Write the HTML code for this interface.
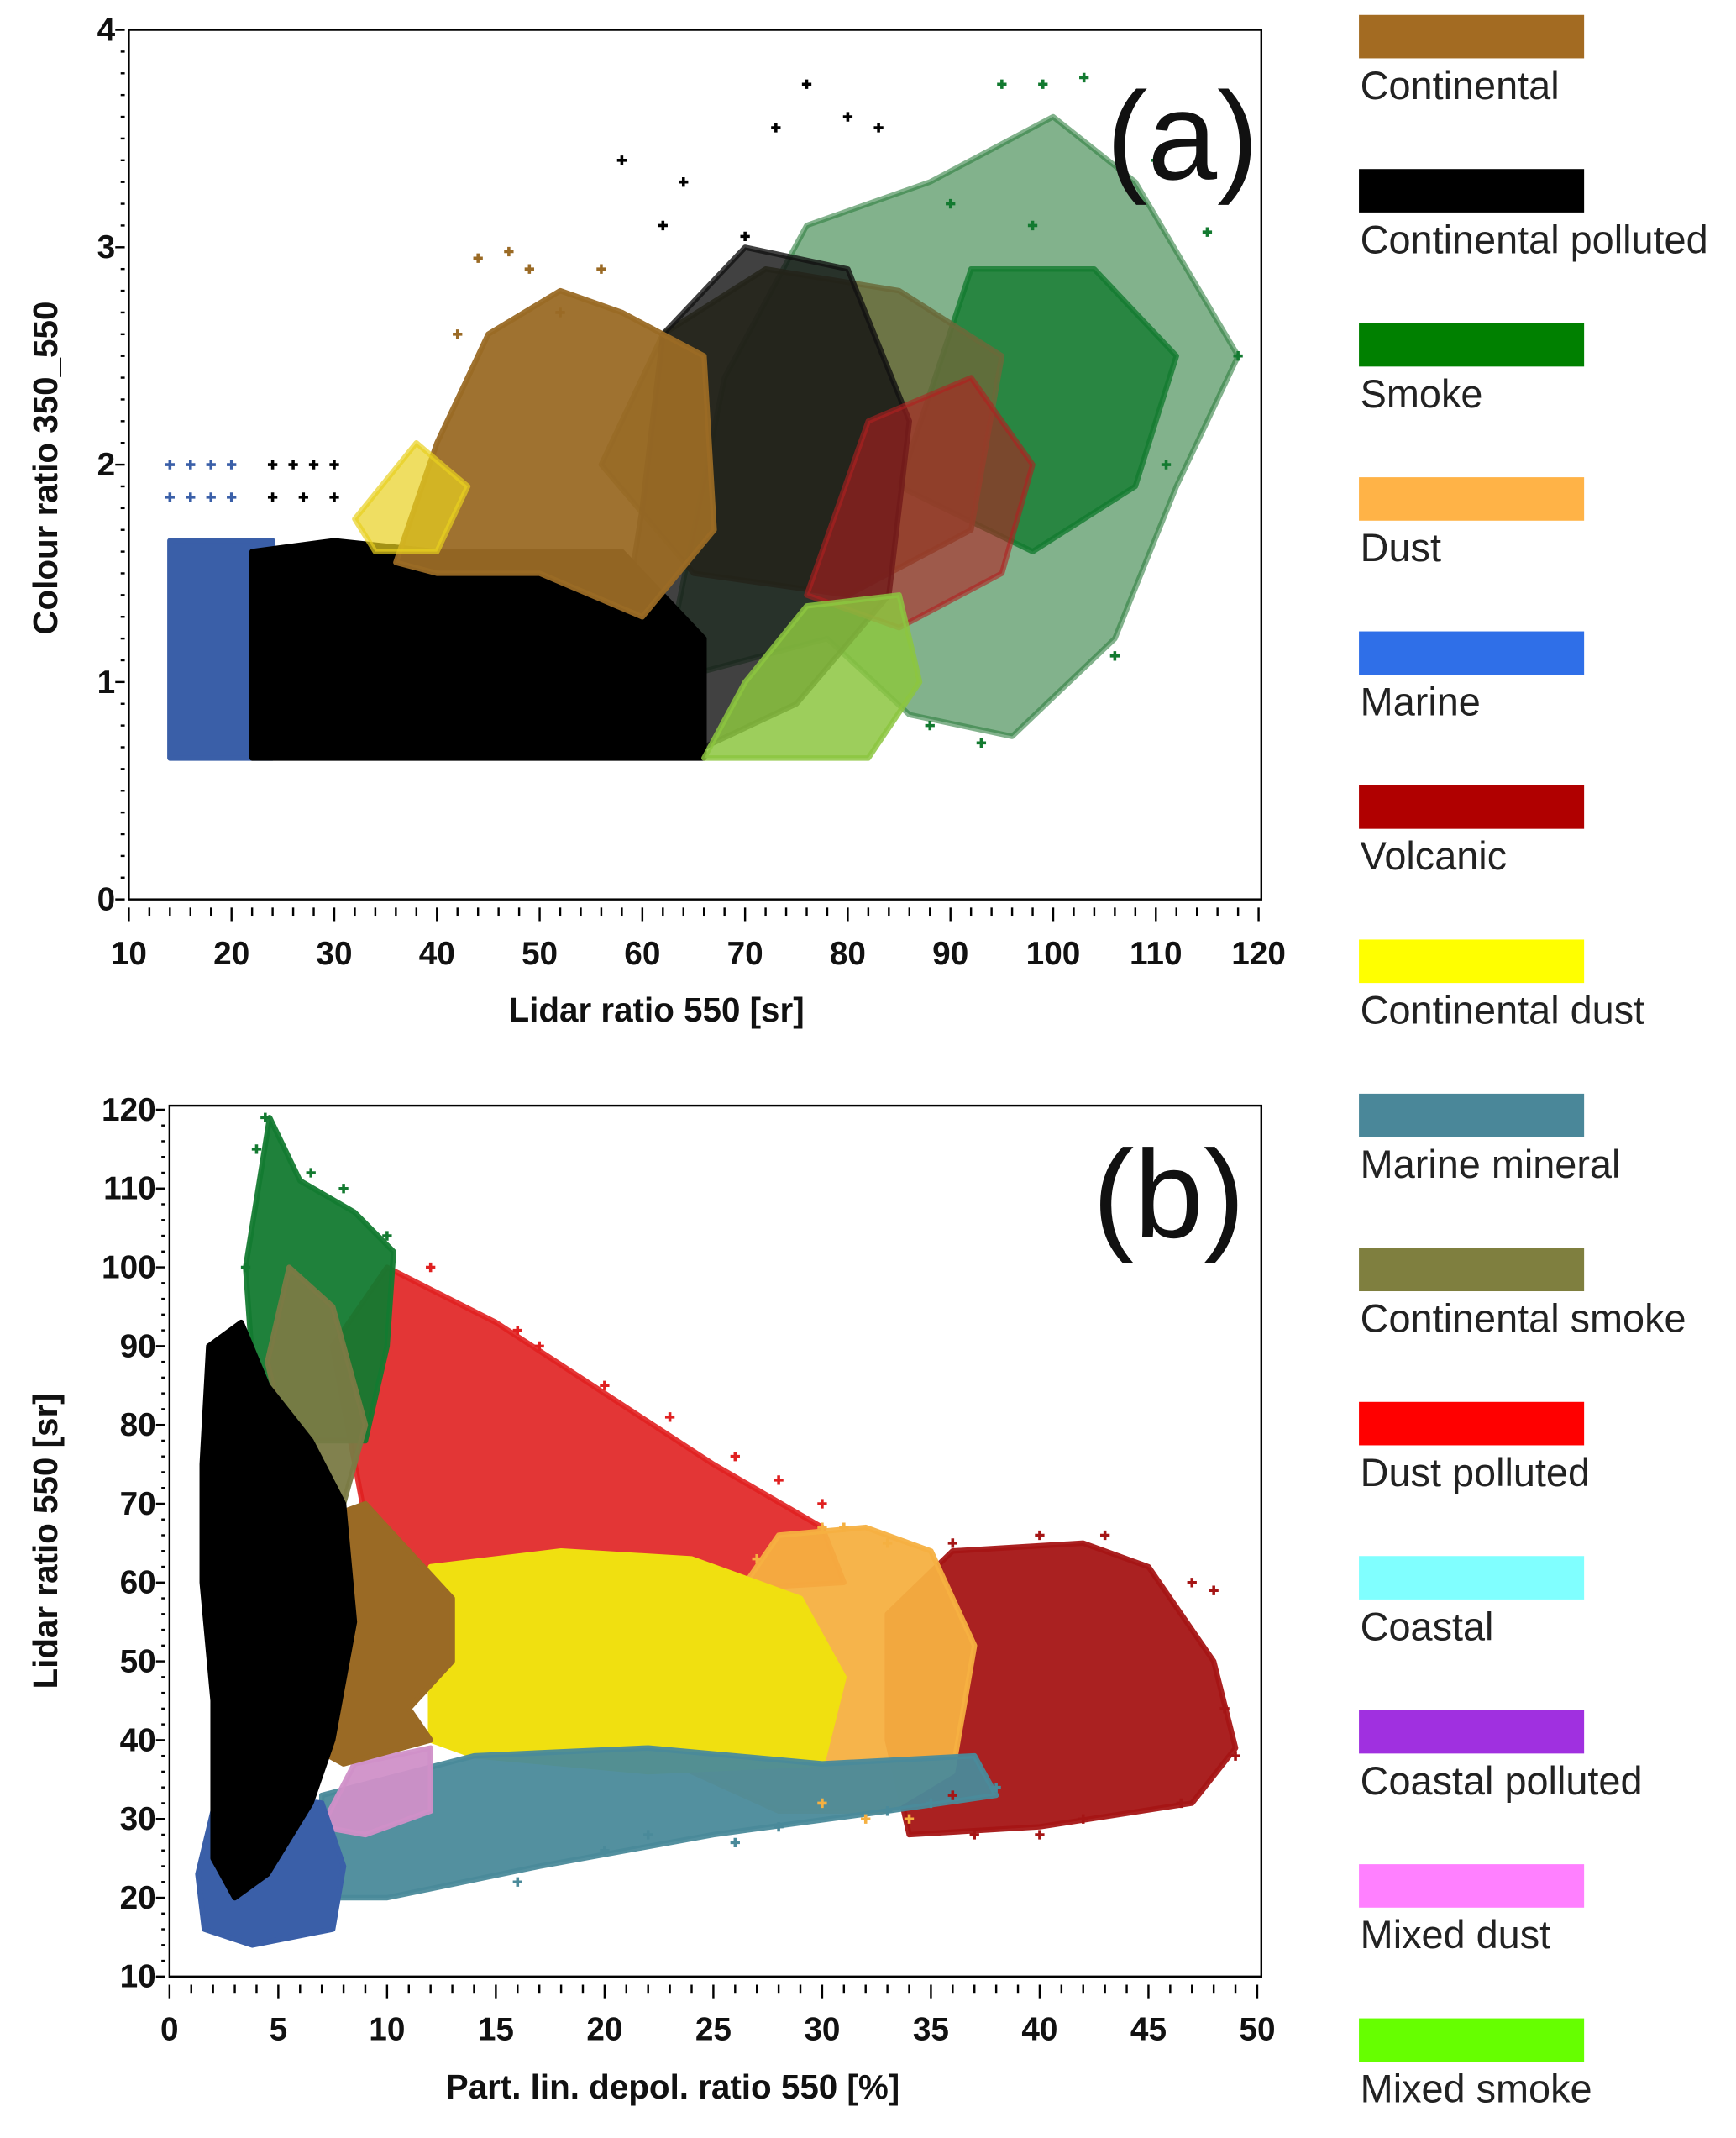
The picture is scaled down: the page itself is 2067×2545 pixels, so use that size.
<!DOCTYPE html>
<html><head><meta charset="utf-8"><style>
html,body{margin:0;padding:0;background:#fff}
svg{display:block}
.tk{font-family:"Liberation Sans",sans-serif;font-weight:bold;font-size:24px;fill:#111}
.tt{font-family:"Liberation Sans",sans-serif;font-weight:bold;font-size:25px;fill:#111}
.lg{font-family:"Liberation Sans",sans-serif;font-size:29px;fill:#222}
.pl{font-family:"Liberation Sans",sans-serif;font-size:92px;fill:#111}
</style></head><body>
<svg id="fig" width="2067" height="2545" viewBox="0 0 1280 1576" xmlns="http://www.w3.org/2000/svg">
<g id="pa"></g>
<g id="pb"></g>
<g id="leg"></g>
</svg>
<script>
const NS="http://www.w3.org/2000/svg";
const legendNames=["Continental","Continental polluted","Smoke","Dust","Marine","Volcanic","Continental dust","Marine mineral","Continental smoke","Dust polluted","Coastal","Coastal polluted","Mixed dust","Mixed smoke"];
const legendColors=["#a36b22","#000000","#008000","#ffb347","#2f6fe8","#b00000","#ffff00","#4a8799","#7f7f3f","#ff0000","#80ffff","#a030e0","#ff80ff","#66ff00"];
const aXTicks=[10,20,30,40,50,60,70,80,90,100,110,120];
const aYTicks=[0,1,2,3,4];
const bXTicks=[0,5,10,15,20,25,30,35,40,45,50];
const bYTicks=[10,20,30,40,50,60,70,80,90,100,110,120];
// Panel (a) class regions [lidar ratio, colour ratio]
const aSmoke=[[62,1.0],[68,2.4],[76,3.1],[88,3.3],[100,3.6],[108,3.3],[118,2.5],[112,1.9],[106,1.2],[96,0.75],[86,0.85],[78,1.2]];
const aSmokeDense=[[85,1.9],[92,2.9],[104,2.9],[112,2.5],[108,1.9],[98,1.6]];
const aContSmoke=[[56,2.0],[62,2.6],[72,2.9],[85,2.8],[95,2.5],[92,1.7],[80,1.4],[65,1.5]];
const aPollDense=[[22,0.65],[66,0.65],[66,1.2],[58,1.6],[40,1.6],[30,1.65],[22,1.6]];
const aPollSparse=[[58,1.2],[66,0.7],[75,0.9],[84,1.4],[86,2.2],[80,2.9],[70,3.0],[62,2.6],[60,1.8]];
const aMarine=[[14,0.65],[24,0.65],[24,1.65],[14,1.65]];
const aCont=[[36,1.55],[40,2.1],[45,2.6],[52,2.8],[58,2.7],[66,2.5],[67,1.7],[60,1.3],[50,1.5],[40,1.5]];
const aDustPoll=[[76,1.4],[82,2.2],[92,2.4],[98,2.0],[95,1.5],[85,1.25]];
const aMixSmoke=[[66,0.65],[82,0.65],[87,1.0],[85,1.4],[76,1.35],[70,1.0]];
const aContDust=[[32,1.75],[38,2.1],[43,1.9],[40,1.6],[34,1.6]];
const aMarinePts=[[14,2.0],[16,2.0],[18,2.0],[20,2.0],[14,1.85],[16,1.85],[18,1.85],[20,1.85]];
const aPollPts=[[24,2.0],[26,2.0],[28,2.0],[30,2.0],[24,1.85],[27,1.85],[30,1.85],[58,3.4],[64,3.3],[73,3.55],[76,3.75],[80,3.6],[83,3.55],[62,3.1],[70,3.05]];
const aSmokePts=[[95,3.75],[99,3.75],[103,3.78],[110,3.4],[115,3.07],[118,2.5],[111,2.0],[106,1.12],[93,0.72],[88,0.8],[98,3.1],[90,3.2]];
const aContPts=[[44,2.95],[47,2.98],[49,2.9],[52,2.7],[56,2.9],[42,2.6]];
// Panel (b) class regions [depol %, lidar ratio]
const bDustPoll=[[7.5,90],[10,100],[15,93],[20,84],[25,75],[30,67],[31,60],[12,57],[9,68]];
const bVolcanic=[[33,56],[36,64],[42,65],[45,62],[48,50],[49,39],[47,32],[40,29],[34,28],[33,40]];
const bDust=[[24,50],[28,66],[32,67],[35,64],[37,52],[36,36],[33,31],[28,31],[24,36]];
const bContDust=[[12,40],[12,62],[18,64],[24,63],[29,58],[31,48],[30,37],[22,36],[14,38]];
const bMarMin=[[7,20],[7,33],[14,38],[22,39],[30,37],[37,38],[38,33],[33,31],[25,28],[17,24],[10,20]];
const bMixDust=[[7,29],[8.5,37],[12,39],[12,31],[9,28]];
const bCont=[[6,60],[7,68],[9,70],[11,64],[13,58],[13,50],[11,44],[12,40],[8,37],[6,40]];
const bSmoke=[[3.5,100],[4.6,119],[6,111],[8.5,107],[10.3,102],[10,90],[9,78],[6,78],[3.8,88]];
const bContSmoke=[[4.5,88],[5.5,100],[7.5,95],[9,80],[8,70],[6,70]];
const bMarine=[[1.3,23],[1.6,16],[3.8,14],[7.5,16],[8,24],[7,32],[4,33],[2,31]];
const bPoll=[[1.5,75],[1.8,90],[3.3,93],[4.5,85],[6.5,78],[8,70],[8.5,55],[7.5,40],[6.5,32],[4.5,23],[3,20],[2,25],[2,45],[1.5,60]];
const bSmokePts=[[4.4,119],[4,115],[6.5,112],[8,110],[10,104],[3.5,100]];
const bDustPollPts=[[12,100],[16,92],[17,90],[20,85],[23,81],[26,76],[28,73],[30,70]];
const bVolcPts=[[36,65],[40,66],[43,66],[47,60],[48,59],[48.5,44],[49,38],[46.5,32],[42,30],[40,28],[37,28],[36,33]];
const bDustPts=[[30,67],[31,67],[33,65],[27,63],[30,32],[32,30],[34,30]];
const bMarMinPts=[[16,22],[20,26],[22,28],[26,27],[28,29],[33,31],[35,32],[38,34]];

function xa(v){return 95+(v-10)/110*833;}
function ya(v){return 663-v/4*641;}
function xb(v){return 125+v/50*802;}
function yb(v){return 1457-(v-10)/110*639;}
function el(tag,attrs,parent){const e=document.createElementNS(NS,tag);for(const k in attrs)e.setAttribute(k,attrs[k]);parent.appendChild(e);return e;}

function region(g,pts,fx,fy,color,op,name){
  const p=el("polygon",{points:pts.map(q=>fx(q[0]).toFixed(1)+","+fy(q[1]).toFixed(1)).join(" "),fill:color,"fill-opacity":op,stroke:color,"stroke-opacity":op,"stroke-width":4,"stroke-linejoin":"round"},g);
  
  
}
function marks(g,pts,fx,fy,color,name){
  pts.forEach(q=>{
    const x=fx(q[0]),y=fy(q[1]);
    const m=el("path",{d:`M${x-3.5},${y}h7M${x},${y-3.5}v7`,stroke:color,"stroke-width":2.2},g);
    
    
  });
}
function axes(g,L,R,T,B,fx,fy,xt,yt,xmin,xstep,ymin,ystep,xTitle,yTitle,yTitleX,yTitleY,tickY,xTitleY,label,lx,ly,cx){
  const f=el("rect",{x:L,y:T,width:R-L,height:B-T,fill:"none",stroke:"#000","stroke-width":1.5},g);
  
  
  const xmax=xt[xt.length-1];
  for(let v=xmin;v<=xmax+1e-9;v+=xstep){
    const x=fx(v);const major=xt.some(t=>Math.abs(t-v)<1e-6);
    el("line",{x1:x,x2:x,y1:B+6,y2:B+(major?16:12),stroke:"#000","stroke-width":1.5},g);
  }
  xt.forEach(t=>{const tx=el("text",{x:fx(t),y:tickY,"text-anchor":"middle",class:"tk"},g);tx.textContent=t;
    
    });
  const ymax=yt[yt.length-1];
  for(let v=ymin;v<=ymax+1e-9;v+=ystep){
    const y=fy(v);const major=yt.some(t=>Math.abs(t-v)<1e-6);
    el("line",{x1:L-(major?10:6),x2:L-3,y1:y,y2:y,stroke:"#000","stroke-width":1.5},g);
  }
  yt.forEach(t=>{const tx=el("text",{x:L-10,y:fy(t)+8,"text-anchor":"end",class:"tk"},g);tx.textContent=t;
    
    });
  const xtl=el("text",{x:cx,y:xTitleY,"text-anchor":"middle",class:"tt"},g);xtl.textContent=xTitle;
  
  
  const ytl=el("text",{x:0,y:0,"text-anchor":"middle",class:"tt",transform:`translate(${yTitleX},${yTitleY}) rotate(-90)`},g);ytl.textContent=yTitle;
  
  
  const pl=el("text",{x:lx,y:ly,"text-anchor":"end",class:"pl"},g);pl.textContent=label;
  
  
}
const C=legendColors;
const pa=document.getElementById("pa");
region(pa,aSmoke,xa,ya,"#2f7f40",0.6,"smoke-region");
region(pa,aSmokeDense,xa,ya,"#137a30",0.8,"smoke-dense-region");
region(pa,aContSmoke,xa,ya,"#6a6a3a",0.85,"continental-smoke-region");
region(pa,aPollSparse,xa,ya,"#111",0.8,"continental-polluted-sparse-region");
region(pa,aMarine,xa,ya,"#3a5fa8",1,"marine-region");
region(pa,aPollDense,xa,ya,"#000",1,"continental-polluted-region");
region(pa,aCont,xa,ya,"#9a6a25",0.95,"continental-region");
region(pa,aContDust,xa,ya,"#e8d020",0.7,"continental-dust-region");
region(pa,aDustPoll,xa,ya,"#b02020",0.6,"dust-polluted-region");
region(pa,aMixSmoke,xa,ya,"#8cc63f",0.85,"mixed-smoke-region");
marks(pa,aMarinePts,xa,ya,"#3a5fa8","marine-point");
marks(pa,aPollPts,xa,ya,"#000","continental-polluted-point");
marks(pa,aSmokePts,xa,ya,"#137a30","smoke-point");
marks(pa,aContPts,xa,ya,"#9a6a25","continental-point");
axes(pa,95,930,22,663,xa,ya,aXTicks,aYTicks,10,2,0,0.1,"Lidar ratio 550 [sr]","Colour ratio 350_550",42,345,711,753,"(a)",928,132,484);

const pb=document.getElementById("pb");
region(pb,bDustPoll,xb,yb,"#e02020",0.9,"dust-polluted-region");
region(pb,bVolcanic,xb,yb,"#a51515",0.95,"volcanic-region");
region(pb,bDust,xb,yb,"#f5b041",0.95,"dust-region");
region(pb,bContDust,xb,yb,"#f0e010",1,"continental-dust-region");
region(pb,bMarMin,xb,yb,"#4a8a9a",0.95,"marine-mineral-region");
region(pb,bMixDust,xb,yb,"#d090c8",0.95,"mixed-dust-region");
region(pb,bCont,xb,yb,"#9a6a25",1,"continental-region");
region(pb,bSmoke,xb,yb,"#137a30",0.95,"smoke-region");
region(pb,bContSmoke,xb,yb,"#7a7a45",0.95,"continental-smoke-region");
region(pb,bMarine,xb,yb,"#3a5fa8",1,"marine-region");
region(pb,bPoll,xb,yb,"#000",1,"continental-polluted-region");
marks(pb,bSmokePts,xb,yb,"#137a30","smoke-point");
marks(pb,bDustPollPts,xb,yb,"#e02020","dust-polluted-point");
marks(pb,bVolcPts,xb,yb,"#a51515","volcanic-point");
marks(pb,bDustPts,xb,yb,"#f5b041","dust-point");
marks(pb,bMarMinPts,xb,yb,"#4a8a9a","marine-mineral-point");
axes(pb,125,930,815,1457,xb,yb,bXTicks,bYTicks,0,1,10,2,"Part. lin. depol. ratio 550 [%]","Lidar ratio 550 [sr]",42,1136,1504,1547,"(b)",918,912,496);

const lg=document.getElementById("leg");
legendNames.forEach((n,i)=>{
  const y=11+i*113.6;
  const r=el("rect",{x:1002,y:y,width:166,height:32,fill:C[i]},lg);
  
  
  const t=el("text",{x:1003,y:y+62,class:"lg"},lg);t.textContent=n;
  
  
});
</script>
</body></html>
